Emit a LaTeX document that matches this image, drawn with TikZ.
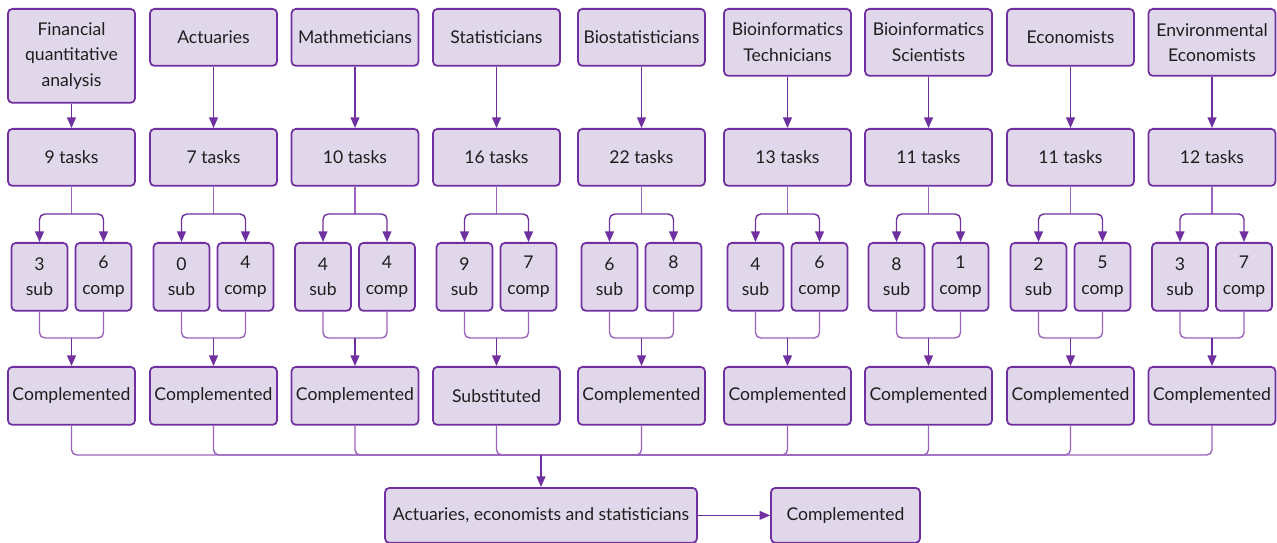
\documentclass[tikz,border=0pt]{standalone}
\usepackage{fontspec}
\setmainfont{Lato}
\usepackage{tikz}
\usetikzlibrary{arrows.meta,positioning,calc}

\definecolor{boxline}{RGB}{112,48,160}
\definecolor{boxfill}{RGB}{225,215,235}
\definecolor{wire}{RGB}{155,100,190}
\definecolor{textgray}{RGB}{30,30,30}

\begin{document}
\begin{tikzpicture}[x=0.02cm,y=-0.02cm,
  job/.style={draw=boxline, fill=boxfill, rounded corners=2.5pt, line width=1pt,
              minimum width=2.54cm, align=center, anchor=north, text=textgray,
              inner xsep=2pt, font=\fontsize{10}{14.5}\selectfont},
  count/.style={job, minimum height=1.14cm},
  half/.style={job, minimum width=1.12cm, minimum height=1.36cm, inner sep=1pt},
  result/.style={job, minimum height=1.16cm},
  final/.style={job, minimum height=1.1cm},
  wireline/.style={draw=wire, line width=0.8pt},
  arr/.style={-{Triangle[length=6pt,width=5pt]}, draw=boxline, line width=0.8pt}
]
\useasboundingbox (0,0) rectangle (1277,543);

\foreach \x/\name/\h/\tasks/\sub/\comp/\res [count=\i] in {
    71.5/{Financial\\quantitative\\analysis}/1.88/9/3/6/Complemented,
    213.5/Actuaries/1.14/7/0/4/Complemented,
    355/Mathmeticians/1.14/10/4/4/Complemented,
    496.5/Statisticians/1.14/16/9/7/Substituted,
    641.5/Biostatisticians/1.14/22/6/8/Complemented,
    787.5/{Bioinformatics\\Technicians}/1.34/13/4/6/Complemented,
    928.5/{Bioinformatics\\Scientists}/1.34/11/8/1/Complemented,
    1070.5/Economists/1.14/11/2/5/Complemented,
    1212/{Environmental\\Economists}/1.34/12/3/7/Complemented}
{
  \node[job, minimum height=\h cm] (top\i) at (\x,8) {\name};
  \node[count] (tasks\i) at (\x,128) {\tasks\ tasks};
  \node[half] (sub\i)  at (\x-32,242) {\sub\\sub};
  \node[half] (comp\i) at (\x+32,242) {\comp\\comp};
  \node[result] (res\i) at (\x,366) {\res};

  \coordinate (split\i) at (\x,214);
  \coordinate (join\i) at (\x,338);

  \draw[arr] (top\i) -- (tasks\i);
  \draw[wireline] (tasks\i.south) -- (split\i);
  \draw[arr, rounded corners=3pt] (split\i) -| (sub\i.north);
  \draw[arr, rounded corners=3pt] (split\i) -| (comp\i.north);
  \draw[wireline, rounded corners=3pt] (sub\i.south) |- (join\i) -| (comp\i.south);
  \draw[arr] (join\i) -- (res\i);
}

\node[final, minimum width=6.24cm] (group) at (541,487) {Actuaries, economists and statisticians};
\node[final, minimum width=2.98cm] (outcome) at (845.5,487) {Complemented};

\coordinate (bus) at (541,455);
\foreach \i in {1,...,9}
  \draw[wireline, rounded corners=3pt] (res\i.south) |- (bus);
\draw[arr] (bus) -- (group);
\draw[arr] (group) -- (outcome);
\end{tikzpicture}
\end{document}
